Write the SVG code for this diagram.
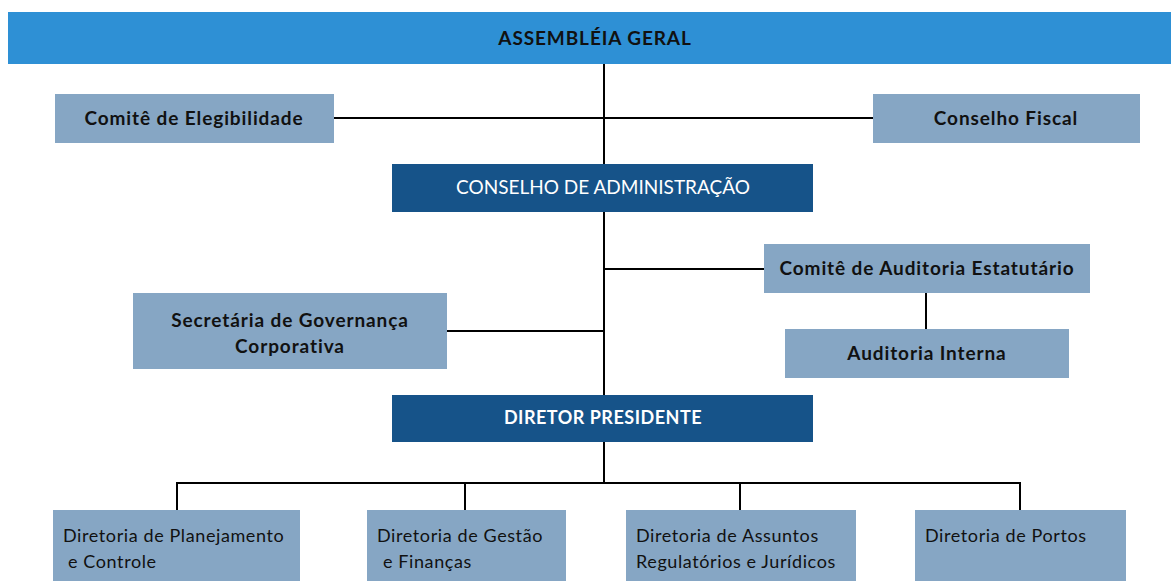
<svg xmlns="http://www.w3.org/2000/svg" width="1171" height="581" viewBox="0 0 1171 581">
<style>
.top{fill:#2E90D5}
.dark{fill:#165389}
.light{fill:#86A6C4}
.lb{font-family:Lato,"Liberation Sans",sans-serif;font-size:19px;font-weight:bold;letter-spacing:0.9px;fill:#111;text-anchor:middle}
.wt{font-family:Lato,"Liberation Sans",sans-serif;font-size:19px;fill:#fff;text-anchor:middle}
.wb{font-family:Lato,"Liberation Sans",sans-serif;font-size:18px;font-weight:bold;letter-spacing:0.5px;fill:#fff;text-anchor:middle}
.lt{font-family:Lato,"Liberation Sans",sans-serif;font-size:18px;letter-spacing:0.6px;fill:#111}
.c{stroke:#000;stroke-width:2;fill:none}
</style>
<rect width="1171" height="581" fill="#fff"/>
<g id="connectors">
<line class="c" x1="604" y1="64" x2="604" y2="483"/>
<line class="c" x1="334" y1="118" x2="873" y2="118"/>
<line class="c" x1="604" y1="269" x2="764" y2="269"/>
<line class="c" x1="926" y1="293" x2="926" y2="329"/>
<line class="c" x1="447" y1="331" x2="604" y2="331"/>
<line class="c" x1="177" y1="483" x2="1020" y2="483"/>
<line class="c" x1="177" y1="482" x2="177" y2="510"/>
<line class="c" x1="465" y1="482" x2="465" y2="510"/>
<line class="c" x1="740" y1="482" x2="740" y2="510"/>
<line class="c" x1="1020" y1="482" x2="1020" y2="510"/>
</g>
<g id="assembleia">
<rect class="top" x="8" y="12" width="1163" height="52"/>
<text class="lb" x="595" y="45">ASSEMBLÉIA GERAL</text>
</g>
<g id="comite-elegibilidade">
<rect class="light" x="55" y="94" width="279" height="49"/>
<text class="lb" x="194" y="125">Comitê de Elegibilidade</text>
</g>
<g id="conselho-fiscal">
<rect class="light" x="873" y="94" width="267" height="49"/>
<text class="lb" x="1006" y="125">Conselho Fiscal</text>
</g>
<g id="conselho-administracao">
<rect class="dark" x="392" y="164" width="421" height="48"/>
<text class="wt" x="603" y="194">CONSELHO DE ADMINISTRAÇÃO</text>
</g>
<g id="comite-auditoria">
<rect class="light" x="764" y="244" width="326" height="49"/>
<text class="lb" x="927" y="275">Comitê de Auditoria Estatutário</text>
</g>
<g id="auditoria-interna">
<rect class="light" x="785" y="329" width="284" height="49"/>
<text class="lb" x="927" y="360">Auditoria Interna</text>
</g>
<g id="secretaria">
<rect class="light" x="133" y="293" width="314" height="76"/>
<text class="lb" x="290" y="327">Secretária de Governança</text>
<text class="lb" x="290" y="353">Corporativa</text>
</g>
<g id="diretor-presidente">
<rect class="dark" x="392" y="395" width="421" height="47"/>
<text class="wb" x="603" y="424">DIRETOR PRESIDENTE</text>
</g>
<g id="dir-planejamento">
<rect class="light" x="53" y="510" width="247" height="71"/>
<text class="lt" x="63" y="542">Diretoria de Planejamento</text>
<text class="lt" x="68" y="568">e Controle</text>
</g>
<g id="dir-gestao">
<rect class="light" x="367" y="510" width="199" height="71"/>
<text class="lt" x="377" y="542">Diretoria de Gestão</text>
<text class="lt" x="383" y="568">e Finanças</text>
</g>
<g id="dir-assuntos">
<rect class="light" x="626" y="510" width="230" height="71"/>
<text class="lt" x="636" y="542">Diretoria de Assuntos</text>
<text class="lt" x="636" y="568">Regulatórios e Jurídicos</text>
</g>
<g id="dir-portos">
<rect class="light" x="915" y="510" width="211" height="71"/>
<text class="lt" x="925" y="542">Diretoria de Portos</text>
</g>
</svg>
